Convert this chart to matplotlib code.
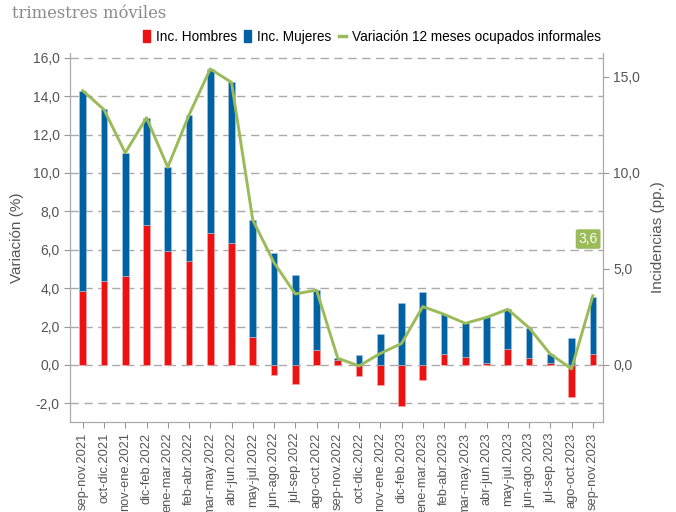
import numpy as np
import matplotlib
matplotlib.use("Agg")
import matplotlib.pyplot as plt
from matplotlib.lines import Line2D
from matplotlib.patches import Patch

# datos
periodos = ["sep-nov.2021", "oct-dic.2021", "nov-ene.2021", "dic-feb.2022", "ene-mar.2022",
            "feb-abr.2022", "mar-may.2022", "abr-jun.2022", "may-jul.2022", "jun-ago.2022",
            "jul-sep.2022", "ago-oct.2022", "sep-nov.2022", "oct-dic.2022", "nov-ene.2022",
            "dic-feb.2023", "ene-mar.2023", "feb-abr.2023", "mar-may.2023", "abr-jun.2023",
            "may-jul.2023", "jun-ago.2023", "jul-sep.2023", "ago-oct.2023", "sep-nov.2023"]
inc_hombres = [3.87, 4.39, 4.65, 7.27, 5.94, 5.42, 6.86, 6.34, 1.44, -0.52,
               -1.00, 0.78, 0.26, -0.56, -1.04, -2.12, -0.78, 0.56, 0.40, 0.09,
               0.82, 0.38, 0.09, -1.65, 0.57]
inc_mujeres = [10.42, 8.93, 6.37, 5.58, 4.36, 7.60, 8.54, 8.38, 6.11, 5.85,
               4.69, 3.13, 0.09, 0.52, 1.61, 3.23, 3.82, 2.08, 1.77, 2.39,
               2.08, 1.56, 0.48, 1.39, 2.99]
var_informales = [14.29, 13.3, 11.05, 12.88, 10.3, 13.02, 15.42, 14.72, 7.55, 5.33,
                  3.7, 3.9, 0.35, -0.05, 0.6, 1.12, 3.04, 2.64, 2.17, 2.48,
                  2.9, 1.94, 0.57, -0.2, 3.6]

ROJO = "#ee1111"
AZUL = "#0062a3"
VERDE = "#9bbb59"
GRIS = "#555555"

plt.rcParams['font.family'] = ['Liberation Sans', 'DejaVu Sans']

fig = plt.figure(figsize=(6.76, 5.12), dpi=100)
ax = fig.add_axes([70/676, 1-422/512, (603-70)/676, (422-53)/512])

x = np.arange(len(periodos))
h = np.array(inc_hombres)
m = np.array(inc_mujeres)
w = 0.31
ax.bar(x, h, w, color=ROJO, edgecolor="#f4b0b0", linewidth=0.4, zorder=2)
ax.bar(x, m, w, bottom=np.clip(h, 0, None), color=AZUL, edgecolor="#a8c8e4", linewidth=0.4, zorder=2)
ax.plot(x, var_informales, color=VERDE, lw=2.1, zorder=3)

ax.set_xlim(-0.6, 24.48)
ylim = (-2.97, 16.25)
ax.set_ylim(*ylim)
ax.set_yticks(np.arange(-2, 17, 2))
ax.set_yticklabels([f"{v:.1f}".replace(".", ",") for v in np.arange(-2, 17, 2)])
ax.yaxis.grid(True, ls=(0, (6, 4)), color="#aaaaaa", lw=1)
ax.set_axisbelow(True)
ax.set_xticks(x)
ax.set_xticklabels(periodos, rotation=90, fontsize=9.3, color=GRIS)
ax.tick_params(axis="y", labelsize=10, colors=GRIS, length=4, color="#999999")
ax.tick_params(axis="x", length=4, color="#999999")
ax.set_ylabel("Variación (%)", fontsize=11, color=GRIS, labelpad=6)
ax.spines["top"].set_visible(False)
for s in ["left", "bottom", "right"]:
    ax.spines[s].set_color("#aaaaaa")

ax2 = ax.twinx()
ax2.set_ylim(*ylim)
ax2.set_yticks([0, 5, 10, 15])
ax2.set_yticklabels(["0,0", "5,0", "10,0", "15,0"])
ax2.tick_params(axis="y", labelsize=10, colors=GRIS, length=4, color="#999999")
ax2.set_ylabel("Incidencias (pp.)", fontsize=11, color=GRIS, labelpad=8)
ax2.spines["top"].set_visible(False)
for s in ["left", "bottom", "right"]:
    ax2.spines[s].set_color("#aaaaaa")

# etiqueta del ultimo valor
ax.text(23.78, 6.56, f"{var_informales[-1]:.1f}".replace(".", ","), ha="center", va="center",
        fontsize=10, color="white", zorder=5,
        bbox=dict(boxstyle="round,pad=0.2,rounding_size=0.15", fc=VERDE, ec="none"))

handles = [Patch(color=ROJO, label="Inc. Hombres"),
           Patch(color=AZUL, label="Inc. Mujeres"),
           Line2D([], [], color=VERDE, lw=2.5, label="Variación 12 meses ocupados informales")]
fig.legend(handles=handles, loc="center", bbox_to_anchor=(372/676, 1-37/512), ncol=3,
           frameon=False, fontsize=9.8, handlelength=0.5, handleheight=1.0,
           handletextpad=0.45, columnspacing=0.55)

fig.text(12/676, 1-13/512, "trimestres móviles", family="DejaVu Serif", fontsize=11.8,
         color="#8a8a8a", va="center", ha="left")

fig.savefig("out.png", dpi=100)
